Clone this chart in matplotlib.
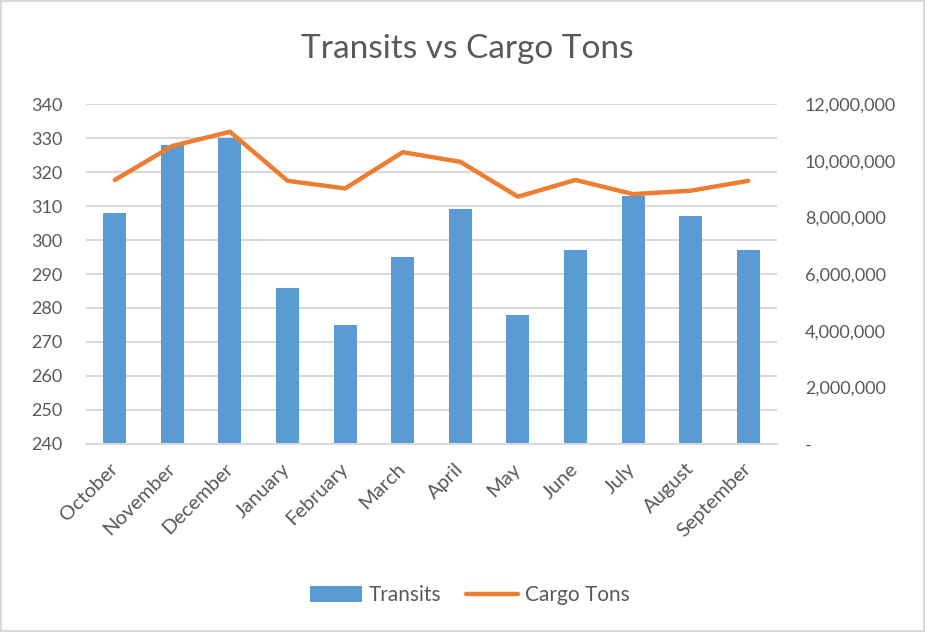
import numpy as np
import matplotlib.pyplot as plt
from matplotlib.ticker import FuncFormatter

plt.rcParams['font.family'] = ['Lato', 'DejaVu Sans']

# DATOS ======================================================================
months = ['October', 'November', 'December', 'January', 'February', 'March',
          'April', 'May', 'June', 'July', 'August', 'September']
transits = [308, 328, 330, 286, 275, 295, 309, 278, 297, 313, 307, 297]
cargo_tons = [9.32e6, 10.52e6, 11.02e6, 9.29e6, 9.02e6, 10.30e6,
              9.96e6, 8.73e6, 9.32e6, 8.82e6, 8.94e6, 9.29e6]

left_ticks = np.arange(240, 341, 10)
right_ticks = np.arange(0, 12.1e6, 2e6)

# estilos
bar_color = '#5b9bd5'; line_color = '#ed7d31'
grid_color = '#d9d9d9'; txt_color = '#595959'
fs_ticks = 13

fig = plt.figure(figsize=(9.25, 6.32), dpi=100)
fig.patch.set_edgecolor(grid_color); fig.patch.set_linewidth(1.5)
ax = fig.add_axes([0.093, 0.2975, 0.747, 0.5379])
ax2 = ax.twinx()

x = np.arange(len(months))
ax.bar(x, transits, width=0.4, color=bar_color, zorder=2, label='Transits')
ax2.plot(x, cargo_tons, color=line_color, lw=3.2, solid_capstyle='round',
         solid_joinstyle='round', label='Cargo Tons')

ax.set_xlim(-0.5, len(months) - 0.5)
ax.set_ylim(240, 340)
ax2.set_ylim(0, 12e6)
ax.set_yticks(left_ticks)
ax2.set_yticks(right_ticks)
ax.yaxis.grid(True, color=grid_color, lw=1.5, zorder=0)
ax.set_axisbelow(True)

ax2.yaxis.set_major_formatter(FuncFormatter(lambda v, p: '-' if v == 0 else f'{v:,.0f}'))

for a in (ax, ax2):
    for s in a.spines.values():
        s.set_visible(False)
    a.tick_params(length=0, colors=txt_color, labelsize=fs_ticks)
ax.spines['bottom'].set_visible(True)
ax.spines['bottom'].set_color(grid_color); ax.spines['bottom'].set_linewidth(1.5)

ax.tick_params(axis='y', pad=17)
ax2.tick_params(axis='y', pad=20)
for t in ax2.get_yticklabels():
    t.set_ha('left')

ax.set_xticks(x)
ax.set_xticklabels(months, rotation=45, ha='right', va='center',
                   rotation_mode='anchor', fontsize=14.5, color=txt_color)
ax.tick_params(axis='x', pad=16)

fig.text(0.505, 0.923, 'Transits vs Cargo Tons', ha='center', va='center',
         fontsize=24, color=txt_color)

h1, l1 = ax.get_legend_handles_labels()
h2, l2 = ax2.get_legend_handles_labels()
fig.legend(h1 + h2, l1 + l2, loc='center', bbox_to_anchor=(0.508, 0.058),
           ncol=2, frameon=False, fontsize=15, labelcolor=txt_color,
           handlelength=2.5, handleheight=0.8, columnspacing=1.2, handletextpad=0.3)

plt.savefig('out.png', dpi=100)
